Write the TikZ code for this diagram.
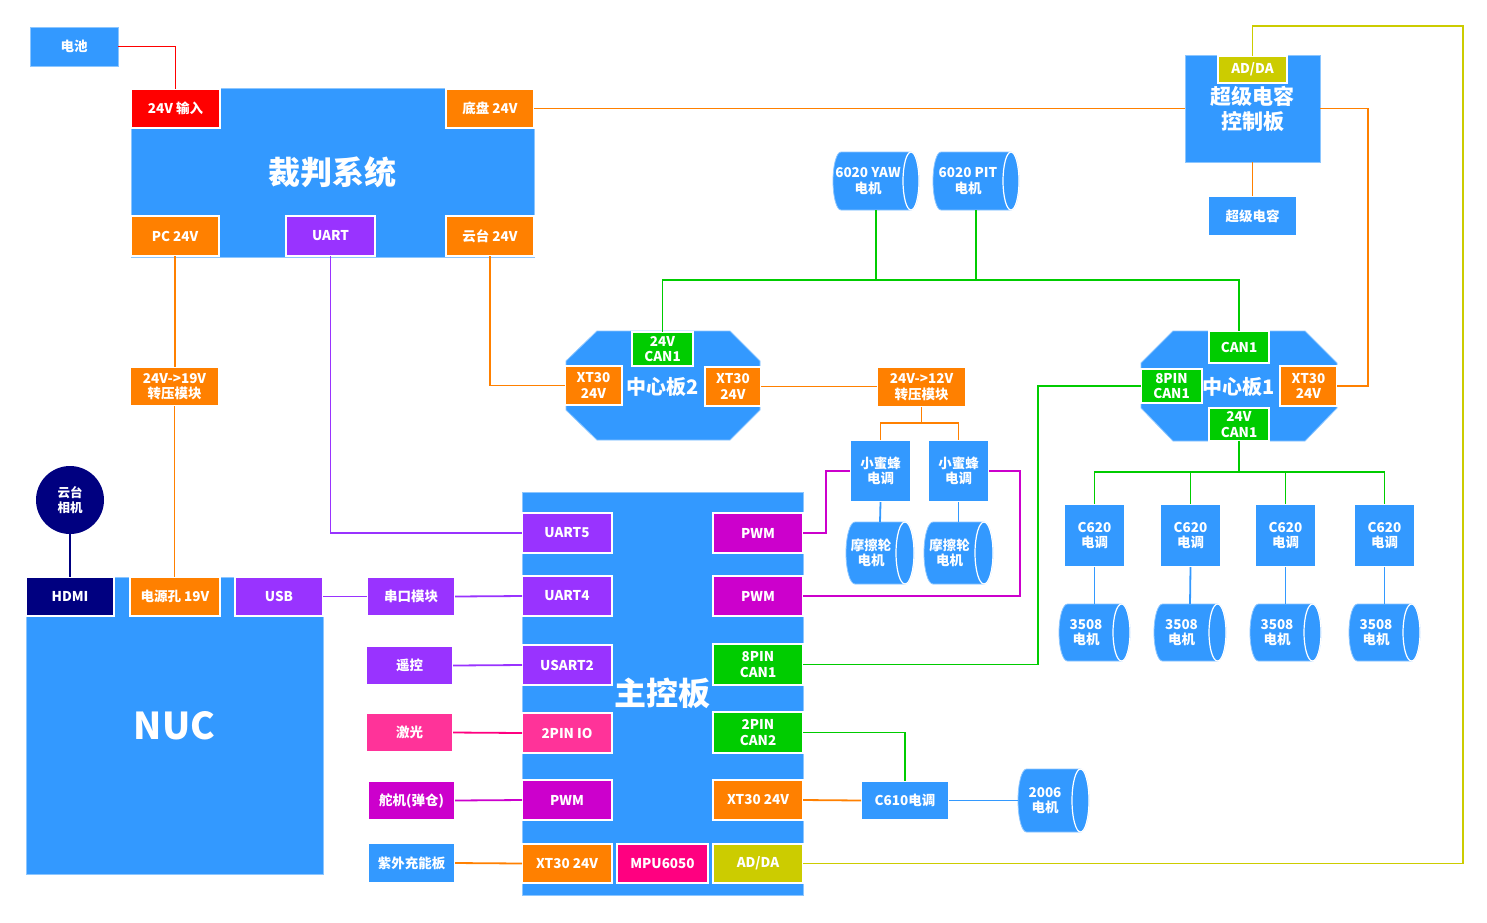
\documentclass[tikz,border=0pt]{standalone}
\usepackage{fontspec}
\setmainfont{Noto Sans CJK SC}
\usetikzlibrary{calc}
\definecolor{cblue}{HTML}{3399FF}
\definecolor{cblight}{HTML}{8CC6FF}
\definecolor{corange}{HTML}{FF8000}
\definecolor{cred}{HTML}{FF0000}
\definecolor{cpurple}{HTML}{9933FF}
\definecolor{cmag}{HTML}{CC00CC}
\definecolor{cpink}{HTML}{FF3399}
\definecolor{chot}{HTML}{FF0080}
\definecolor{cgreen}{HTML}{00CC00}
\definecolor{cyel}{HTML}{CCCC00}
\definecolor{cnavy}{HTML}{000080}
\tikzset{
  every node/.style={inner sep=0pt,outer sep=0pt},
  lbl/.style={text=white,font=\bfseries\fontsize{13.5}{15.5}\selectfont,align=center},
  port/.style={lbl,draw=white,line width=1.2pt},
  bigbox/.style={fill=cblue,draw=cblight,line width=0.8pt},
  wire/.style={line width=1.8pt},
}
\newcommand\mybox[7][]{%
  \pgfmathsetmacro\bxc{(#3+#5)/2}\pgfmathsetmacro\byc{(#4+#6)/2}%
  \pgfmathsetmacro\bw{#5-#3}\pgfmathsetmacro\bh{#6-#4}%
  \node[port,#1,minimum width=\bw pt,minimum height=\bh pt] (#2) at (\bxc,\byc) {#7};}
\newcommand\mycyl[7]{%
  \pgfmathsetmacro\cyw{#4-#2}\pgfmathsetmacro\cyh{#5-#3}%
  \pgfmathsetmacro\cyx{(#2+#4)/2}\pgfmathsetmacro\cyy{(#3+#5)/2}%
  \pgfmathsetmacro\cyr{(#5-#3)/2}\pgfmathsetmacro\cyt{(#2+#4-2*#6)/2}%
  \node[minimum width=\cyw pt,minimum height=\cyh pt] (#1) at (\cyx,\cyy) {};
  \filldraw[fill=cblue,draw=cblight,line width=0.8pt] (#4-#6,#3) -- (#2+#6,#3)
     arc[start angle=90,end angle=270,x radius=#6pt,y radius=\cyr pt] -- (#4-#6,#5)
     arc[start angle=-90,end angle=90,x radius=#6pt,y radius=\cyr pt] -- cycle;
  \draw[white,line width=1.2pt] (#4-#6,\cyy) ellipse[x radius=#6pt,y radius=\cyr pt];
  \node[lbl] (#1t) at (\cyt,\cyy) {#7};}
\begin{document}
\begin{tikzpicture}[x=1pt,y=-1pt]
\useasboundingbox (0,0) rectangle (1487,922);
\fill[white] (0,0) rectangle (1487,922);
% referee system
\mybox[fill=cblue,draw=cblight,line width=0.8pt]{bat}{30}{27}{118}{66}{电池}
\mybox[bigbox,font=\bfseries\fontsize{32}{36}\selectfont]{ref}{131}{88}{534}{257}{裁判系统}
\mybox[fill=cred]{in24}{131}{89}{220}{128}{24V 输入}
\mybox[fill=corange]{dipan}{446}{89}{534}{128}{底盘 24V}
\mybox[fill=corange]{pc24}{131}{216}{219}{256}{PC 24V}
\mybox[fill=cpurple]{uart}{286}{216}{375}{256}{UART}
\mybox[fill=corange]{yt24}{446}{216}{534}{256}{云台 24V}
\mybox[fill=corange]{b19}{130}{367}{219}{406}{24V->19V\\转压模块}
% NUC
\mybox[bigbox,font=\bfseries\fontsize{37}{40}\selectfont]{nuc}{26}{577}{323}{874}{NUC}
\mybox[fill=cnavy]{hdmi}{26}{577}{114}{616}{HDMI}
\mybox[fill=corange]{pwr19}{130}{577}{220}{616}{电源孔 19V}
\mybox[fill=cpurple]{usb}{235}{577}{323}{616}{USB}
\node[lbl,circle,fill=cnavy,minimum size=68pt,font=\bfseries\fontsize{12.5}{14.5}\selectfont] (cam) at (70,500) {云台\\相机};
% peripherals
\mybox[fill=cpurple]{serial}{367}{577}{455}{616}{串口模块}
\mybox[fill=cpurple]{remote}{366}{646}{453}{685}{遥控}
\mybox[fill=cpink]{laser}{366}{713}{453}{752}{激光}
\mybox[fill=cmag]{servo}{368}{781}{455}{820}{舵机(弹仓)}
\mybox[fill=cblue]{uv}{368}{843}{455}{883}{紫外充能板}
% main board
\mybox[bigbox,font=\bfseries\fontsize{32}{36}\selectfont]{main}{522}{492}{803}{895}{主控板}
\mybox[fill=cpurple]{uart5}{522}{513}{612}{553}{UART5}
\mybox[fill=cpurple]{uart4}{522}{576}{612}{616}{UART4}
\mybox[fill=cpurple]{usart2}{522}{645}{612}{685}{USART2}
\mybox[fill=cpink]{io2}{522}{713}{612}{753}{2PIN IO}
\mybox[fill=cmag]{pwml}{522}{780}{612}{820}{PWM}
\mybox[fill=corange]{xtl}{522}{844}{612}{883}{XT30 24V}
\mybox[fill=chot]{mpu}{617}{844}{708}{883}{MPU6050}
\mybox[fill=cmag]{pwma}{713}{513}{803}{553}{PWM}
\mybox[fill=cmag]{pwmb}{713}{576}{803}{616}{PWM}
\mybox[fill=cgreen]{pin8}{713}{644}{803}{685}{8PIN\\CAN1}
\mybox[fill=cgreen]{can2}{713}{712}{803}{753}{2PIN\\CAN2}
\mybox[fill=corange]{xtr}{713}{780}{803}{820}{XT30 24V}
\mybox[fill=cyel]{adda}{713}{844}{803}{883}{AD/DA}
% center board 2
\filldraw[fill=cblue,draw=cblight,line width=0.8pt] (597,331) -- (730,331) -- (760,361) -- (760,410) -- (730,440) -- (597,440) -- (566,410) -- (566,361) -- cycle;
\node[lbl,font=\bfseries\fontsize{20}{24}\selectfont,minimum width=194pt,minimum height=109pt] (c2) at (663,387) {中心板2};
\mybox[fill=cgreen]{c2can}{632}{332}{693}{366}{24V\\CAN1}
\mybox[fill=corange]{c2l}{565}{366}{622}{405}{XT30\\24V}
\mybox[fill=corange]{c2r}{705}{367}{761}{406}{XT30\\24V}
\mybox[fill=corange]{b12}{877}{367}{966}{407}{24V->12V\\转压模块}
\mybox[fill=cblue]{bee1}{850}{440}{911}{502}{小蜜蜂\\电调}
\mybox[fill=cblue]{bee2}{928}{440}{989}{502}{小蜜蜂\\电调}
\mycyl{fw1}{846}{522}{914}{584}{9}{摩擦轮\\电机}
\mycyl{fw2}{924}{522}{993}{584}{9}{摩擦轮\\电机}
\mycyl{yaw}{833}{152}{919}{210}{8}{6020 YAW\\电机}
\mycyl{pit}{933}{152}{1019}{210}{8}{6020 PIT\\电机}
\mybox[fill=cblue]{c610}{861}{781}{949}{820}{C610电调}
\mycyl{m2006}{1018}{769}{1089}{832}{8.5}{2006\\电机}
% center board 1
\filldraw[fill=cblue,draw=cblight,line width=0.8pt] (1173,331) -- (1305,331) -- (1337,363) -- (1337,408) -- (1305,441) -- (1173,441) -- (1141,408) -- (1141,363) -- cycle;
\node[lbl,font=\bfseries\fontsize{20}{24}\selectfont,minimum width=196pt,minimum height=110pt] (c1) at (1239,387) {中心板1};
\mybox[fill=cgreen]{c1can}{1209}{331}{1269}{363}{CAN1}
\mybox[fill=cgreen]{c1pin8}{1141}{369}{1202}{403}{8PIN\\CAN1}
\mybox[fill=corange]{c1xt}{1280}{366}{1337}{406}{XT30\\24V}
\mybox[fill=cgreen]{c1bot}{1209}{408}{1269}{441}{24V\\CAN1}
% super capacitor
\mybox[bigbox,font=\bfseries\fontsize{21}{25}\selectfont]{scap}{1185}{55}{1320}{162}{\rule{0pt}{16pt}超级电容\\控制板}
\mybox[fill=cyel]{scapad}{1218}{56}{1287}{83}{AD/DA}
\mybox[fill=cblue]{scapbox}{1208}{196}{1297}{236}{超级电容}
% C620 and 3508
\mybox[fill=cblue]{ca}{1064}{504}{1125}{567}{C620\\电调}
\mybox[fill=cblue]{cb}{1160}{504}{1221}{567}{C620\\电调}
\mybox[fill=cblue]{cc}{1255}{504}{1316}{567}{C620\\电调}
\mybox[fill=cblue]{cd}{1354}{504}{1415}{567}{C620\\电调}
\mycyl{ma}{1059}{604}{1130}{661}{8.5}{3508\\电机}
\mycyl{mb}{1154}{604}{1226}{661}{8.5}{3508\\电机}
\mycyl{mc}{1250}{604}{1321}{661}{8.5}{3508\\电机}
\mycyl{md}{1349}{604}{1420}{661}{8.5}{3508\\电机}
% ---------------- wires
\coordinate (canbus) at (0,280);
\coordinate (cbus) at (0,472);
\coordinate (b12j) at (0,423);
\draw[wire,cred] (bat.east) -| (in24.north);
\draw[wire,corange] (dipan.east) -- (scap.west);
\draw[wire,corange] (pc24.south) -- (pc24.south |- b19.north);
\draw[wire,corange] (b19.south) -- (b19.south |- pwr19.north);
\draw[wire,cpurple] (uart.south) |- (uart5.west);
\draw[wire,corange] (yt24.south) |- (c2l.west);
\draw[wire,cgreen] (c2can.north) -- (c2can.north |- canbus) -- (c1can.north |- canbus) -- (c1can.north);
\draw[wire,cgreen] (yaw.south) -- (yaw.south |- canbus);
\draw[wire,cgreen] (pit.south) -- (pit.south |- canbus);
\draw[wire,corange] (c2r.east) -- (c2r.east -| b12.west);
\draw[wire,corange] (b12.south) -- (b12.south |- b12j);
\draw[wire,corange] (bee1.north) -- (bee1.north |- b12j) -- (bee2.north |- b12j) -- (bee2.north);
\draw[wire,cblue] (bee1.south) -- (fw1.north);
\draw[wire,cblue] (bee2.south) -- (fw2.north);
\draw[wire,cmag] (pwma.east) -- ++(23,0) |- (bee1.west);
\draw[wire,cmag] (pwmb.east) -- ++(217,0) |- (bee2.east);
\draw[wire,cgreen] (pin8.east) -- ++(235,0) |- (c1pin8.west);
\draw[wire,cgreen] (can2.east) -| (c610.north);
\draw[wire,corange] (xtr.east) -- (c610.west);
\draw[wire,cblue] (c610.east) -- (m2006.west);
\draw[wire,cyel] (adda.east) -- ++(660,0) |- ($(scapad.north)+(0,-30)$) -- (scapad.north);
\draw[wire,corange] (c1xt.east) -- ++(31,0) |- (scap.east);
\draw[wire,corange] (scap.south) -- (scapbox.north);
\draw[wire,cgreen] (c1bot.south) -- (c1bot.south |- cbus);
\draw[wire,cgreen] (ca.north) -- (ca.north |- cbus) -- (cd.north |- cbus) -- (cd.north);
\draw[wire,cgreen] (cb.north) -- (cb.north |- cbus);
\draw[wire,cgreen] (cc.north) -- (cc.north |- cbus);
\draw[wire,cblue] (ca.south) -- (ma.north);
\draw[wire,cblue] (cb.south) -- (mb.north);
\draw[wire,cblue] (cc.south) -- (mc.north);
\draw[wire,cblue] (cd.south) -- (md.north);
\draw[wire,cnavy] (cam.south) -- (hdmi.north);
\draw[wire,cpurple] (usb.east) -- (serial.west);
\draw[wire,cpurple] (serial.east) -- (uart4.west);
\draw[wire,cpurple] (remote.east) -- (usart2.west);
\draw[wire,chot] (laser.east) -- (io2.west);
\draw[wire,cmag] (servo.east) -- (pwml.west);
\draw[wire,corange] (uv.east) -- (xtl.west);
\end{tikzpicture}
\end{document}
